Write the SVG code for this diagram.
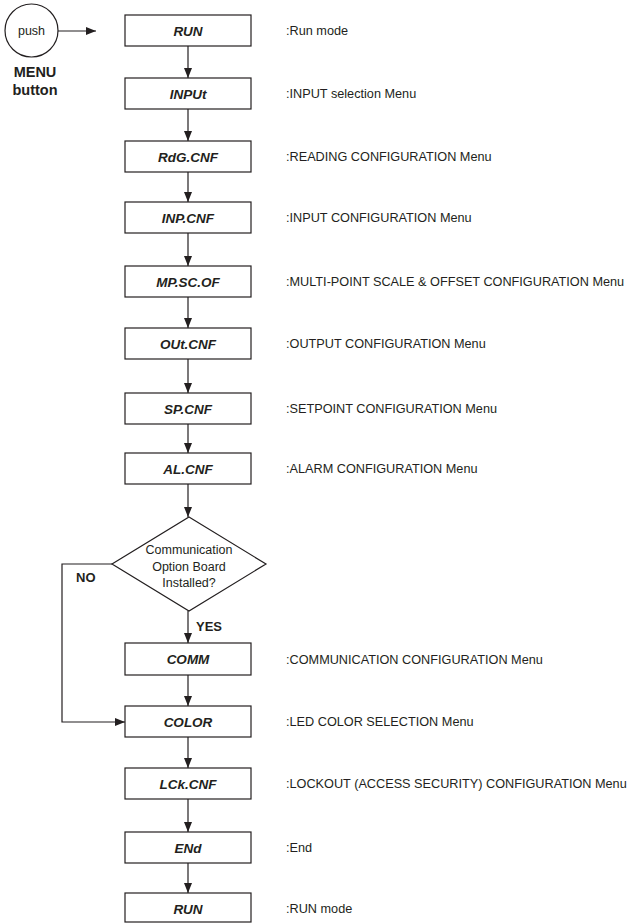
<svg xmlns="http://www.w3.org/2000/svg" width="631" height="923" viewBox="0 0 631 923">
<defs>
<marker id="ah" markerUnits="userSpaceOnUse" markerWidth="10" markerHeight="8" refX="10" refY="4" orient="auto">
<path d="M0,0 L10,4 L0,8 z" fill="#231f20"/>
</marker>
<style>
.box{fill:#fff;stroke:#231f20;stroke-width:1.2}
.bt{font-family:"Liberation Sans",Arial,sans-serif;font-size:13.5px;font-weight:bold;font-style:italic;fill:#231f20;text-anchor:middle}
.lb{font-family:"Liberation Sans",Arial,sans-serif;font-size:12.7px;fill:#231f20}
.dt{font-family:"Liberation Sans",Arial,sans-serif;font-size:12.5px;fill:#231f20;text-anchor:middle}
.bd{font-family:"Liberation Sans",Arial,sans-serif;font-weight:bold;fill:#231f20}
.cn{fill:none;stroke:#231f20;stroke-width:1.2}
</style>
</defs>
<rect width="631" height="923" fill="#fff"/>
<g id="push">
<circle cx="31.5" cy="30.5" r="26.5" class="box"/>
<text x="31.5" y="35" class="dt">push</text>
<text x="35" y="77" class="bd" font-size="14.5" text-anchor="middle">MENU</text>
<text x="35" y="95" class="bd" font-size="14.5" text-anchor="middle">button</text>
</g>
<g id="connectors">
<line x1="58" y1="31" x2="96" y2="31" class="cn" marker-end="url(#ah)"/>
<line x1="188" y1="46" x2="188" y2="78" class="cn" marker-end="url(#ah)"/>
<line x1="188" y1="109" x2="188" y2="141" class="cn" marker-end="url(#ah)"/>
<line x1="188" y1="172" x2="188" y2="202" class="cn" marker-end="url(#ah)"/>
<line x1="188" y1="233" x2="188" y2="266" class="cn" marker-end="url(#ah)"/>
<line x1="188" y1="297" x2="188" y2="328" class="cn" marker-end="url(#ah)"/>
<line x1="188" y1="359" x2="188" y2="393" class="cn" marker-end="url(#ah)"/>
<line x1="188" y1="424" x2="188" y2="453" class="cn" marker-end="url(#ah)"/>
<line x1="188" y1="484" x2="188" y2="517" class="cn" marker-end="url(#ah)"/>
<line x1="188" y1="611" x2="188" y2="643" class="cn" marker-end="url(#ah)"/>
<polyline points="112,564 62,564 62,722 125,722" class="cn" marker-end="url(#ah)"/>
<line x1="188" y1="675" x2="188" y2="706" class="cn" marker-end="url(#ah)"/>
<line x1="188" y1="737" x2="188" y2="768" class="cn" marker-end="url(#ah)"/>
<line x1="188" y1="799" x2="188" y2="832" class="cn" marker-end="url(#ah)"/>
<line x1="188" y1="863" x2="188" y2="893" class="cn" marker-end="url(#ah)"/>
<text x="76" y="582" class="bd" font-size="13">NO</text>
<text x="196" y="631" class="bd" font-size="13">YES</text>
</g>
<g id="run1"><rect x="125" y="15" width="126" height="31" class="box"/><text x="188" y="35.5" class="bt">RUN</text><text x="286" y="35" class="lb">:Run mode</text></g>
<g id="input"><rect x="125" y="78" width="126" height="31" class="box"/><text x="188" y="98.5" class="bt">INPUt</text><text x="286" y="98" class="lb">:INPUT selection Menu</text></g>
<g id="rdgcnf"><rect x="125" y="141" width="126" height="31" class="box"/><text x="188" y="161.5" class="bt">RdG.CNF</text><text x="286" y="161" class="lb">:READING CONFIGURATION Menu</text></g>
<g id="inpcnf"><rect x="125" y="202" width="126" height="31" class="box"/><text x="188" y="222.5" class="bt">INP.CNF</text><text x="286" y="222" class="lb">:INPUT CONFIGURATION Menu</text></g>
<g id="mpscof"><rect x="125" y="266" width="126" height="31" class="box"/><text x="188" y="286.5" class="bt">MP.SC.OF</text><text x="286" y="286" class="lb">:MULTI-POINT SCALE &amp; OFFSET CONFIGURATION Menu</text></g>
<g id="outcnf"><rect x="125" y="328" width="126" height="31" class="box"/><text x="188" y="348.5" class="bt">OUt.CNF</text><text x="286" y="348" class="lb">:OUTPUT CONFIGURATION Menu</text></g>
<g id="spcnf"><rect x="125" y="393" width="126" height="31" class="box"/><text x="188" y="413.5" class="bt">SP.CNF</text><text x="286" y="413" class="lb">:SETPOINT CONFIGURATION Menu</text></g>
<g id="alcnf"><rect x="125" y="453" width="126" height="31" class="box"/><text x="188" y="473.5" class="bt">AL.CNF</text><text x="286" y="473" class="lb">:ALARM CONFIGURATION Menu</text></g>
<g id="decision"><polygon points="189,517 266,564 189,611 112,564" class="box"/>
<text x="189" y="554" class="dt">Communication</text>
<text x="189" y="571" class="dt">Option Board</text>
<text x="189" y="587" class="dt">Installed?</text></g>
<g id="comm"><rect x="125" y="643" width="126" height="32" class="box"/><text x="188" y="664" class="bt">COMM</text><text x="286" y="663.5" class="lb">:COMMUNICATION CONFIGURATION Menu</text></g>
<g id="color"><rect x="125" y="706" width="126" height="31" class="box"/><text x="188" y="726.5" class="bt">COLOR</text><text x="286" y="726" class="lb">:LED COLOR SELECTION Menu</text></g>
<g id="lckcnf"><rect x="125" y="768" width="126" height="31" class="box"/><text x="188" y="788.5" class="bt">LCk.CNF</text><text x="286" y="788" class="lb">:LOCKOUT (ACCESS SECURITY) CONFIGURATION Menu</text></g>
<g id="end"><rect x="125" y="832" width="126" height="31" class="box"/><text x="188" y="852.5" class="bt">ENd</text><text x="286" y="852" class="lb">:End</text></g>
<g id="run2"><rect x="125" y="893" width="126" height="29" class="box"/><text x="188" y="913.5" class="bt">RUN</text><text x="286" y="913" class="lb">:RUN mode</text></g>
</svg>
